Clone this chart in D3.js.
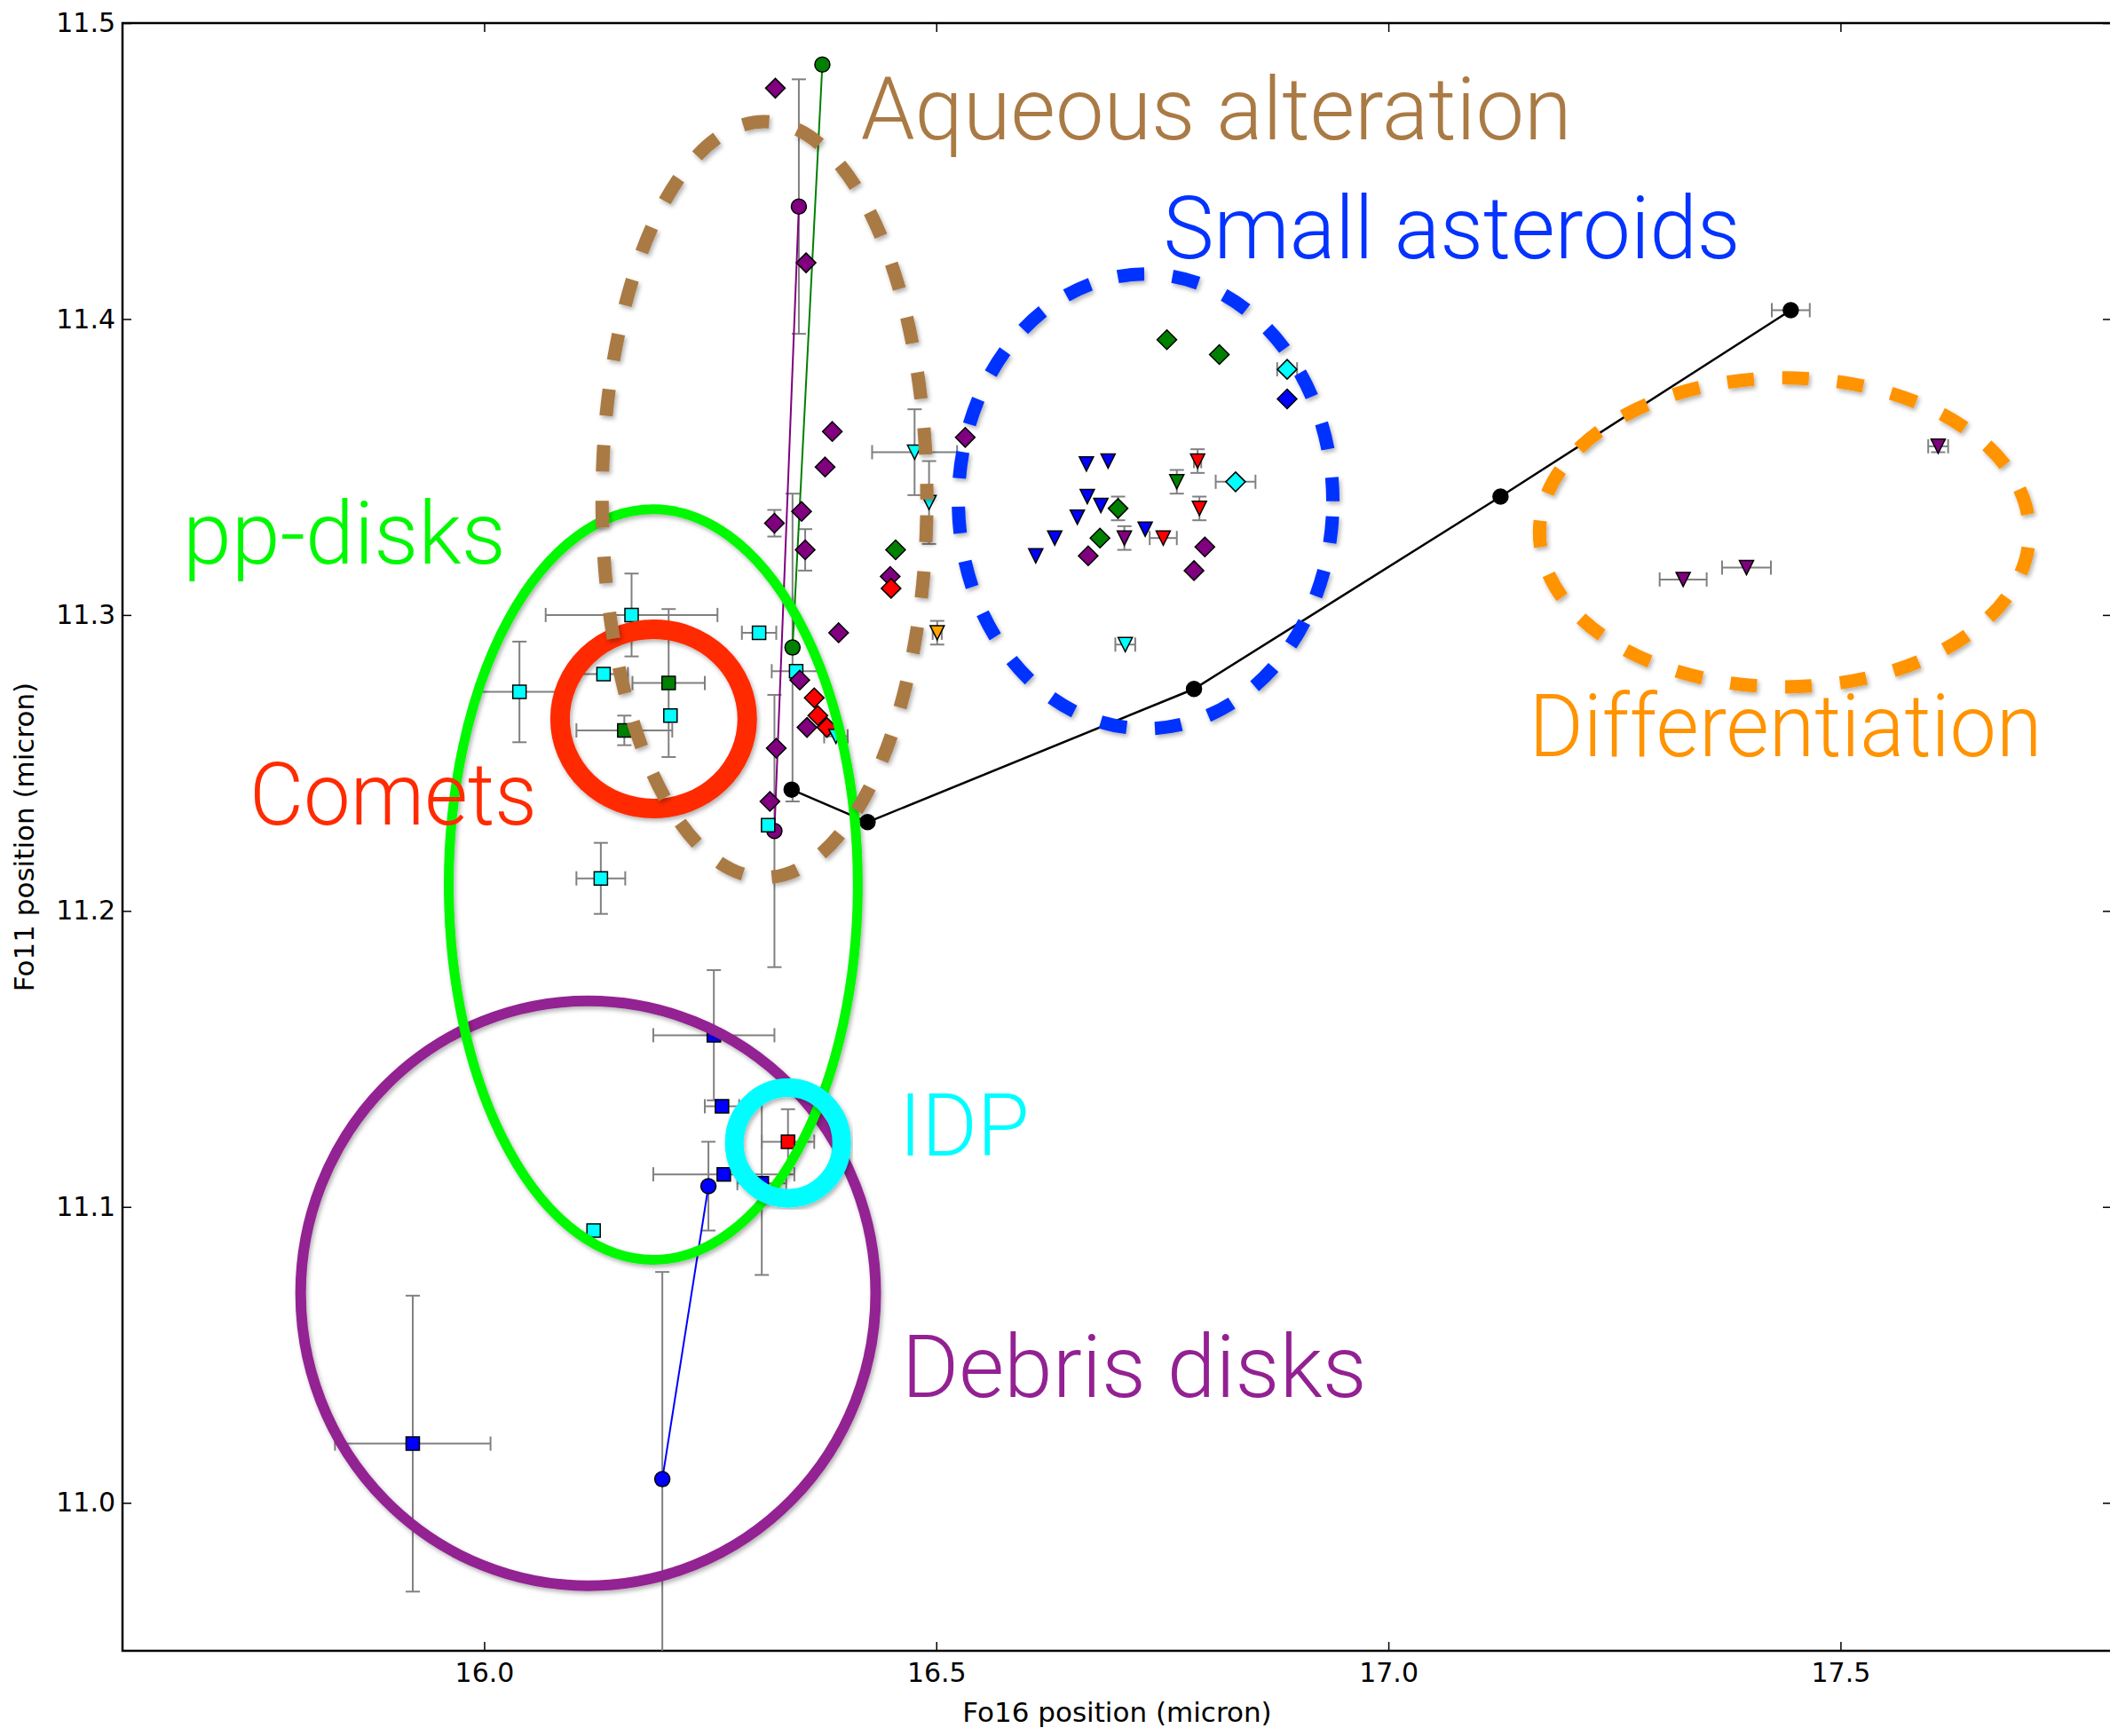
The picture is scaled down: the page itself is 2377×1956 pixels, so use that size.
<!DOCTYPE html>
<html>
<head>
<meta charset="utf-8">
<script src="https://cdn.jsdelivr.net/npm/d3@7"></script>
<style>
  html, body { margin: 0; padding: 0; background: #fff; }
  svg { display: block; }
</style>
</head>
<body>
<div id="chart"></div>
<script>
// Fo16 vs Fo11 band positions. every row is [x, y, xerr, yerr] in micron
var xTicks = [16.0, 16.5, 17.0, 17.5];
var yTicks = [11.0, 11.1, 11.2, 11.3, 11.4, 11.5];

var cyanSquares = [
  [16.163, 11.300, 0.095, 0.014],
  [16.039, 11.274, 0.044, 0.017],
  [16.132, 11.280, 0.027, 0],
  [16.206, 11.266, 0, 0],
  [16.304, 11.294, 0.019, 0],
  [16.345, 11.281, 0.027, 0],
  [16.129, 11.211, 0.027, 0.012],
  [16.314, 11.229, 0, 0],
  [16.121, 11.092, 0, 0]
];
var greenSquares = [
  [16.204, 11.277, 0.040, 0.025],
  [16.155, 11.261, 0.053, 0.005]
];
var blueSquares = [
  [16.254, 11.158, 0.067, 0.022],
  [16.263, 11.134, 0.019, 0],
  [16.265, 11.111, 0.078, 0],
  [16.307, 11.108, 0.027, 0.031],
  [15.921, 11.020, 0.086, 0.050]
];
var redSquares = [
  [16.336, 11.122, 0.029, 0.011]
];

var purpleDiamonds = [
  [16.322, 11.478, 0, 0], [16.356, 11.419, 0, 0], [16.385, 11.362, 0, 0],
  [16.377, 11.350, 0, 0], [16.351, 11.335, 0, 0], [16.321, 11.331, 0, 0.0045],
  [16.355, 11.322, 0, 0.007], [16.532, 11.360, 0, 0], [16.449, 11.313, 0, 0],
  [16.392, 11.294, 0, 0], [16.349, 11.278, 0, 0], [16.357, 11.262, 0, 0],
  [16.323, 11.255, 0, 0], [16.316, 11.237, 0, 0], [16.668, 11.320, 0, 0],
  [16.797, 11.323, 0, 0], [16.785, 11.315, 0, 0]
];
var greenDiamonds = [
  [16.455, 11.322, 0, 0], [16.755, 11.393, 0, 0], [16.813, 11.388, 0, 0],
  [16.701, 11.336, 0, 0.004], [16.681, 11.326, 0, 0]
];
var redDiamonds = [
  [16.450, 11.309, 0, 0], [16.365, 11.272, 0, 0], [16.369, 11.266, 0, 0], [16.379, 11.262, 0, 0]
];
var cyanDiamonds = [
  [16.888, 11.383, 0.011, 0], [16.831, 11.345, 0.022, 0]
];
var blueDiamonds = [
  [16.888, 11.373, 0, 0]
];

var blueTriangles = [
  [16.666, 11.351, 0, 0], [16.690, 11.352, 0, 0], [16.667, 11.340, 0, 0], [16.682, 11.337, 0, 0],
  [16.656, 11.333, 0, 0], [16.631, 11.326, 0, 0], [16.610, 11.320, 0, 0], [16.731, 11.329, 0, 0]
];
var redTriangles = [
  [16.789, 11.352, 0.004, 0.004], [16.791, 11.336, 0, 0.004], [16.751, 11.326, 0.015, 0]
];
var greenTriangles = [
  [16.766, 11.345, 0, 0.004]
];
var purpleTriangles = [
  [16.708, 11.326, 0, 0.004], [17.608, 11.357, 0.011, 0.002], [17.326, 11.312, 0.026, 0], [17.396, 11.316, 0.027, 0]
];
var cyanTriangles = [
  [16.476, 11.355, 0.047, 0.0145], [16.492, 11.338, 0, 0.014], [16.709, 11.290, 0.011, 0], [16.389, 11.259, 0.013, 0]
];
var orangeTriangles = [
  [16.501, 11.294, 0.005, 0.004]
];

// model tracks (joined points)
var blackTrack = [
  [16.340, 11.241, 0, 0], [16.424, 11.230, 0, 0], [16.785, 11.275, 0, 0],
  [17.124, 11.340, 0, 0], [17.445, 11.403, 0.021, 0]
];
var purpleTrack = [[16.348, 11.438, 0, 0.043], [16.321, 11.227, 0, 0.046]];
var greenTrack = [[16.374, 11.486, 0, 0], [16.341, 11.289, 0, 0.052]];
var blueTrack = [[16.248, 11.107, 0, 0.015], [16.197, 11.008, 0, 0.070]];

// hand drawn regions: centre and half axes in micron
var regionNames = ['Debris disks', 'pp-disks', 'IDP', 'Comets', 'Small asteroids', 'Differentiation', 'Aqueous alteration'];
var regionCx = [16.115, 16.187, 16.336, 16.1874, 16.7315, 17.438, 16.310];
var regionCy = [11.0708, 11.2089, 11.1216, 11.2649, 11.3384, 11.3279, 11.339];
var regionRx = [0.318, 0.2262, 0.0594, 0.1035, 0.2071, 0.2709, 0.1796];
var regionRy = [0.0988, 0.1268, 0.0187, 0.0303, 0.0768, 0.0522, 0.1277];
// where each name is written (left end of the baseline)
var labelX = [16.4616, 15.6667, 16.4587, 15.7403, 16.7511, 17.1554, 16.4165];
var labelY = [11.0358, 11.3174, 11.1174, 11.2292, 11.4205, 11.2523, 11.4607];

var regionStyle = {
  'Debris disks':       {color: '#932192', width: 12, dash: null, len: 524},
  'pp-disks':           {color: '#00f900', width: 11, dash: null, len: 364},
  'IDP':                {color: '#00fdff', width: 21, dash: null, len: 147},
  'Comets':             {color: '#ff2a00', width: 22, dash: null, len: 324},
  'Small asteroids':    {color: '#0433ff', width: 15, dash: '30,32', len: 650},
  'Differentiation':    {color: '#ff9300', width: 15, dash: '30,32', len: 578},
  'Aqueous alteration': {color: '#aa7a45', width: 15, dash: '30,33', len: 801}
};

var width = 2377, height = 1956;
var margin = {left: 138, top: 26, right: 2379, bottom: 1860};

var svg = d3.select('#chart').append('svg')
  .attr('width', width)
  .attr('height', height);

var x = d3.scaleLinear().domain([15.6, 17.8]).range([margin.left, margin.right]);
var y = d3.scaleLinear().domain([10.95, 11.5]).range([margin.bottom, margin.top]);

var defs = svg.append('defs');
defs.append('clipPath').attr('id', 'plot')
  .append('rect')
  .attr('x', margin.left).attr('y', margin.top)
  .attr('width', margin.right - margin.left)
  .attr('height', margin.bottom - margin.top);
var shadow = defs.append('filter').attr('id', 'shadow')
  .attr('x', '-10%').attr('y', '-10%').attr('width', '120%').attr('height', '120%');
shadow.append('feDropShadow')
  .attr('dx', 2).attr('dy', 3).attr('stdDeviation', 2.5)
  .attr('flood-color', '#000').attr('flood-opacity', 0.3);

// axes, ticks pointing inward on all four sides
function styleAxis(g) {
  g.select('.domain').remove();
  g.selectAll('.tick line').attr('stroke', '#000').attr('stroke-width', 1.5);
  g.selectAll('text')
    .attr('font-family', 'DejaVu Sans, sans-serif')
    .attr('font-size', 30)
    .attr('fill', '#000');
}

svg.append('g')
  .attr('transform', 'translate(0,' + margin.bottom + ')')
  .call(d3.axisBottom(x).tickValues(xTicks).tickFormat(d3.format('.1f')).tickSizeInner(-10).tickSizeOuter(0).tickPadding(14))
  .call(styleAxis);
svg.append('g')
  .attr('transform', 'translate(0,' + margin.top + ')')
  .call(d3.axisTop(x).tickValues(xTicks).tickFormat('').tickSizeInner(-10).tickSizeOuter(0))
  .call(styleAxis);
svg.append('g')
  .attr('transform', 'translate(' + margin.left + ',0)')
  .call(d3.axisLeft(y).tickValues(yTicks).tickFormat(d3.format('.1f')).tickSizeInner(-10).tickSizeOuter(0).tickPadding(8))
  .call(styleAxis);
svg.append('g')
  .attr('transform', 'translate(' + margin.right + ',0)')
  .call(d3.axisRight(y).tickValues(yTicks).tickFormat('').tickSizeInner(-10).tickSizeOuter(0))
  .call(styleAxis);

svg.append('rect')
  .attr('x', margin.left).attr('y', margin.top)
  .attr('width', margin.right - margin.left)
  .attr('height', margin.bottom - margin.top)
  .attr('fill', 'none')
  .attr('stroke', '#000')
  .attr('stroke-width', 2.5);

svg.append('text')
  .attr('x', (margin.left + margin.right) / 2)
  .attr('y', 1940)
  .attr('text-anchor', 'middle')
  .attr('font-family', 'DejaVu Sans, sans-serif')
  .attr('font-size', 31)
  .text('Fo16 position (micron)');

svg.append('text')
  .attr('transform', 'translate(38,' + (margin.top + margin.bottom) / 2 + ') rotate(-90)')
  .attr('text-anchor', 'middle')
  .attr('font-family', 'DejaVu Sans, sans-serif')
  .attr('font-size', 31)
  .text('Fo11 position (micron)');

// data
var plot = svg.append('g').attr('clip-path', 'url(#plot)');

var series = [
  {data: blackTrack, shape: 'circle', color: '#000000', line: true},
  {data: purpleTrack, shape: 'circle', color: '#800080', line: true},
  {data: greenTrack, shape: 'circle', color: '#008000', line: true},
  {data: blueTrack, shape: 'circle', color: '#0000ff', line: true},
  {data: cyanSquares, shape: 'square', color: '#00ffff'},
  {data: greenSquares, shape: 'square', color: '#008000'},
  {data: blueSquares, shape: 'square', color: '#0000ff'},
  {data: redSquares, shape: 'square', color: '#ff0000'},
  {data: purpleDiamonds, shape: 'diamond', color: '#800080'},
  {data: greenDiamonds, shape: 'diamond', color: '#008000'},
  {data: redDiamonds, shape: 'diamond', color: '#ff0000'},
  {data: cyanDiamonds, shape: 'diamond', color: '#00ffff'},
  {data: blueDiamonds, shape: 'diamond', color: '#0000ff'},
  {data: blueTriangles, shape: 'tri', color: '#0000ff'},
  {data: redTriangles, shape: 'tri', color: '#ff0000'},
  {data: greenTriangles, shape: 'tri', color: '#008000'},
  {data: purpleTriangles, shape: 'tri', color: '#800080'},
  {data: cyanTriangles, shape: 'tri', color: '#00ffff'},
  {data: orangeTriangles, shape: 'tri', color: '#ffa500'}
];

var cap = 8;
var errG = plot.append('g')
  .attr('stroke', '#808080')
  .attr('stroke-width', 2);

series.forEach(function(s) {
  s.data.forEach(function(d) {
    var px = x(d[0]), py = y(d[1]);
    if (d[2] > 0) {
      var x0 = x(d[0] - d[2]), x1 = x(d[0] + d[2]);
      errG.append('line').attr('x1', x0).attr('x2', x1).attr('y1', py).attr('y2', py);
      errG.append('line').attr('x1', x0).attr('x2', x0).attr('y1', py - cap).attr('y2', py + cap);
      errG.append('line').attr('x1', x1).attr('x2', x1).attr('y1', py - cap).attr('y2', py + cap);
    }
    if (d[3] > 0) {
      var y0 = y(d[1] - d[3]), y1 = y(d[1] + d[3]);
      errG.append('line').attr('x1', px).attr('x2', px).attr('y1', y0).attr('y2', y1);
      errG.append('line').attr('x1', px - cap).attr('x2', px + cap).attr('y1', y0).attr('y2', y0);
      errG.append('line').attr('x1', px - cap).attr('x2', px + cap).attr('y1', y1).attr('y2', y1);
    }
  });
});

var line = d3.line().x(function(d) { return x(d[0]); }).y(function(d) { return y(d[1]); });
series.filter(function(s) { return s.line; }).forEach(function(s) {
  plot.append('path')
    .datum(s.data)
    .attr('d', line)
    .attr('fill', 'none')
    .attr('stroke', s.color)
    .attr('stroke-width', s.color == '#000000' ? 2.5 : 2);
});

function markerPath(shape) {
  if (shape == 'square') return 'M-7.5,-7.5H7.5V7.5H-7.5Z';
  if (shape == 'diamond') return 'M0,-11L11,0L0,11L-11,0Z';
  if (shape == 'tri') return 'M-8,-8L8,-8L0,8Z';
  return d3.symbol().type(d3.symbolCircle).size(Math.PI * 8.5 * 8.5)();
}

series.forEach(function(s) {
  plot.append('g').selectAll('path')
    .data(s.data)
    .enter().append('path')
    .attr('transform', function(d) { return 'translate(' + x(d[0]) + ',' + y(d[1]) + ')'; })
    .attr('d', markerPath(s.shape))
    .attr('fill', s.color)
    .attr('stroke', '#000')
    .attr('stroke-width', 1.5);
});

// the hand drawn regions on top
var regions = regionNames.map(function(name, i) {
  return {name: name, cx: regionCx[i], cy: regionCy[i], rx: regionRx[i], ry: regionRy[i],
          lx: labelX[i], ly: labelY[i]};
});

var regionG = plot.append('g');
regions.forEach(function(r) {
  var st = regionStyle[r.name];
  var e = regionG.append('ellipse')
    .attr('cx', x(r.cx))
    .attr('cy', y(r.cy))
    .attr('rx', x(r.cx + r.rx) - x(r.cx))
    .attr('ry', y(r.cy) - y(r.cy + r.ry))
    .attr('fill', 'none')
    .attr('stroke', st.color)
    .attr('stroke-width', st.width)
    .attr('filter', 'url(#shadow)');
  if (st.dash) e.attr('stroke-dasharray', st.dash).attr('stroke-dashoffset', 45);
});

regions.forEach(function(r) {
  var st = regionStyle[r.name];
  svg.append('text')
    .attr('x', x(r.lx))
    .attr('y', y(r.ly))
    .attr('font-family', 'Roboto, Lato, "Liberation Sans", sans-serif')
    .attr('font-weight', 300)
    .attr('font-size', 98)
    .attr('fill', st.color)
    .attr('textLength', st.len)
    .attr('lengthAdjust', 'spacingAndGlyphs')
    .text(r.name);
});
</script>
</body>
</html>
